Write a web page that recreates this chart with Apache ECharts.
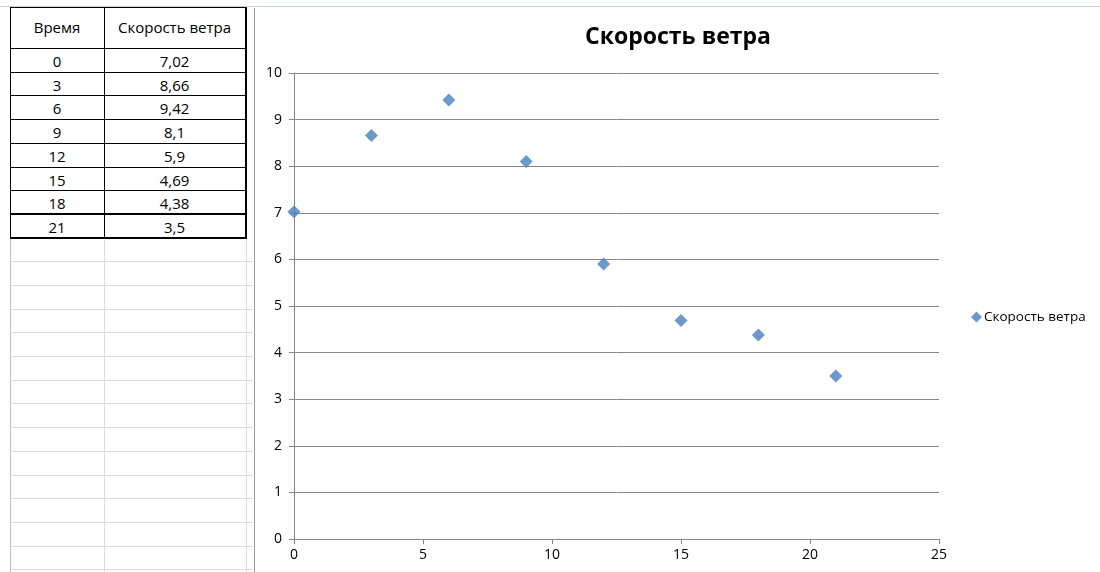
<!DOCTYPE html>
<html><head><meta charset="utf-8">
<script src="https://cdn.jsdelivr.net/npm/echarts@6/dist/echarts.min.js"></script>
<style>
html,body{margin:0;padding:0;background:#fff;width:1100px;height:572px;overflow:hidden;font-family:"Open Sans","Noto Sans",sans-serif;}
.l{position:absolute;}
.t{position:absolute;text-align:center;font-size:15px;color:#000;line-height:1;}
#chart{position:absolute;left:254px;top:8px;width:846px;height:564px;border-left:1px solid #9c9c9c;}
</style></head><body>
<div id="sheet"></div>
<div id="chart"></div>
<script>
const headers = ["Время", "Скорость ветра"];
const times = [0, 3, 6, 9, 12, 15, 18, 21];
const speeds = [7.02, 8.66, 9.42, 8.1, 5.9, 4.69, 4.38, 3.5];
const seriesName = "Скорость ветра";
const xTicks = [0, 5, 10, 15, 20, 25];
const yTicks = [0, 1, 2, 3, 4, 5, 6, 7, 8, 9, 10];

// ---- spreadsheet part ----
const sheet = document.getElementById('sheet');
function line(x, y, w, h, c) {
  const d = document.createElement('div');
  d.className = 'l';
  d.style.cssText = `left:${x}px;top:${y}px;width:${w}px;height:${h}px;background:${c}`;
  sheet.appendChild(d);
}
function text(s, x, y, w, h) {
  const d = document.createElement('div');
  d.className = 't';
  d.style.cssText = `left:${x}px;top:${y}px;width:${w}px;height:${h}px;line-height:${h}px`;
  d.textContent = s;
  sheet.appendChild(d);
}
const X0 = 10, X1 = 104, X2 = 245, XC = 253;
const rowH = 23.7, headTop = 7, headBot = 48;
line(0, 6, 1100, 1, '#c9d3de');
for (let y = headBot + rowH * 9; y < 572; y += rowH) {
  line(X0, Math.round(y), XC - X0, 1, '#dadcdd');
}
line(X1, 240, 1, 332, '#dadcdd');
line(X2 + 1, 240, 1, 332, '#dadcdd');
line(X0, 6, 1, 566, '#b7c5d6');
line(X0, headTop, X2 - X0, 1, '#000');
line(X0, headBot, X2 - X0, 1, '#000');
for (let i = 1; i <= times.length; i++) {
  const y = Math.round(headBot + rowH * i);
  const thick = (i >= times.length - 1);
  line(X0, y - (thick ? 1 : 0), X2 - X0 + 2, thick ? 2 : 1, '#000');
}
const tableBottom = Math.round(headBot + rowH * times.length);
line(X0, headTop, 1, tableBottom - headTop, '#000');
line(X1, headTop, 1, tableBottom - headTop, '#000');
line(X2, headTop, 2, tableBottom - headTop + 1, '#000');
text(headers[0], X0, headTop, X1 - X0, headBot - headTop);
text(headers[1], X1, headTop, X2 - X1, headBot - headTop);
for (let i = 0; i < times.length; i++) {
  const y = Math.round(headBot + rowH * i);
  text(String(times[i]), X0, y + 1, X1 - X0, Math.round(rowH));
  text(String(speeds[i]).replace('.', ','), X1, y + 1, X2 - X1, Math.round(rowH));
}

// ---- chart part ----
const chart = echarts.init(document.getElementById('chart'), null, {renderer: 'canvas'});
const FF = '"Open Sans","Noto Sans",sans-serif';
const axisLabelStyle = {color: '#000', fontSize: 14, fontFamily: FF};
chart.setOption({
  animation: false,
  backgroundColor: '#fff',
  title: {
    text: seriesName,
    left: 'center', top: 13,
    textStyle: {fontSize: 23, fontWeight: 'bold', color: '#000', fontFamily: FF}
  },
  legend: {
    left: 716, top: 302, padding: 0,
    icon: 'diamond', itemWidth: 11, itemHeight: 11, itemGap: 4,
    textStyle: {fontSize: 13.5, color: '#000', fontFamily: FF, padding: [0, 0, 0, -3]},
    data: [seriesName]
  },
  grid: {left: 39, right: 162, top: 65, bottom: 33, containLabel: false},
  xAxis: {
    type: 'value', min: xTicks[0], max: xTicks[xTicks.length - 1], interval: 5,
    axisLine: {show: true, onZero: false, lineStyle: {color: '#868686', width: 1}},
    axisTick: {show: true, length: 5, lineStyle: {color: '#868686'}},
    axisLabel: Object.assign({margin: 9}, axisLabelStyle),
    splitLine: {show: false}
  },
  yAxis: {
    type: 'value', min: yTicks[0], max: yTicks[yTicks.length - 1], interval: 1,
    axisLine: {show: true, onZero: false, lineStyle: {color: '#868686', width: 1}},
    axisTick: {show: true, length: 5, lineStyle: {color: '#868686'}},
    axisLabel: Object.assign({margin: 12}, axisLabelStyle),
    splitLine: {show: true, lineStyle: {color: '#868686', width: 1}}
  },
  series: [{
    name: seriesName,
    type: 'scatter',
    symbol: 'diamond',
    symbolSize: 13,
    itemStyle: {color: '#4a7ebb'},
    data: times.map((t, i) => [t, speeds[i]])
  }]
});
</script>
</body></html>
